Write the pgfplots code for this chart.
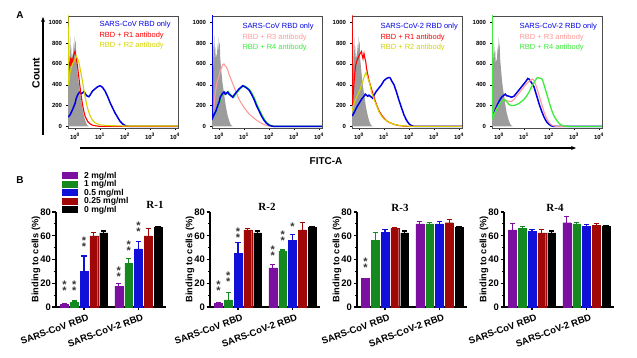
\documentclass[border=0pt]{standalone}
\usepackage{fontspec}
\setmainfont{Liberation Sans}
\newfontfamily\serifb{Liberation Serif}
\usepackage{pgfplots}
\pgfplotsset{compat=1.18}
\usetikzlibrary{arrows.meta}
\definecolor{cpur}{HTML}{7A0FA0}
\definecolor{cgrn}{HTML}{13891F}
\definecolor{cblu}{HTML}{1010D8}
\definecolor{cred}{HTML}{A00808}
\definecolor{hblue}{HTML}{0000E6}
\definecolor{hred}{HTML}{FF0000}
\definecolor{hyel}{HTML}{D4D400}
\definecolor{hpink}{HTML}{FF9A9A}
\definecolor{hgrn}{HTML}{3CEB3C}
\definecolor{hgray}{HTML}{9C9C9C}
\pgfplotsset{
 histo/.style={scale only axis, width=110bp, height=112bp,
   xmin=-0.28, xmax=4.12, ymin=-15, ymax=1060,
   axis line style={black!70, line width=0.5bp},
   xtick={0,1,2,3,4},
   xticklabels={10\textsuperscript{0},10\textsuperscript{1},10\textsuperscript{2},10\textsuperscript{3},10\textsuperscript{4}},
   ytick={0,200,400,600,800,1000}, yticklabels={0,200,400,600,800,1000},
   minor xtick={0.301,0.477,0.602,0.699,0.778,0.845,0.903,0.954,1.301,1.477,1.602,1.699,1.778,1.845,1.903,1.954,2.301,2.477,2.602,2.699,2.778,2.845,2.903,2.954,3.301,3.477,3.602,3.699,3.778,3.845,3.903,3.954},
   tick align=outside, xtick pos=bottom, ytick pos=left,
   major tick length=2bp, minor tick length=1.2bp,
   tick style={black, line width=0.4bp},
   ticklabel style={font=\fontsize{6}{6.5}\selectfont\bfseries},
   xticklabel style={yshift=0bp}, yticklabel style={xshift=-0.5bp},
   clip=true,
 },
 hl/.style={color=#1, line width=1.1bp, sharp plot, mark=none},
 barax/.style={scale only axis, width=110bp, height=95bp,
   xmin=-0.514, xmax=1.505, ymin=0, ymax=80,
   axis x line*=bottom, axis y line*=left,
   axis line style={line width=1.3bp},
   ybar=2bp, bar width=7.8bp,
   xtick={0,1}, xticklabels={SARS-CoV RBD,SARS-CoV-2 RBD},
   ytick={0,20,40,60,80}, minor ytick={10,30,50,70},
   tick align=outside, major tick length=3.5bp, minor tick length=2bp,
   tick style={black, line width=1.2bp},
   /pgf/number format/assume math mode=true,
   yticklabel style={font=\fontsize{9.5}{10}\selectfont\bfseries, xshift=0bp, inner sep=1.5bp},
   xticklabel style={font=\fontsize{9.5}{10}\selectfont\bfseries, rotate=20, anchor=north east, xshift=3bp, yshift=-3bp, inner sep=1bp},
   ylabel={Binding to cells (\%)},
   ylabel style={font=\fontsize{9.3}{10}\selectfont\bfseries, yshift=-5bp},
   clip=false,
 },
 eb/.style={fill=#1, draw=#1, line width=0.3bp,
   error bars/.cd, y dir=plus, y explicit,
   error bar style={draw=#1, line width=1.2bp},
   error mark options={draw=#1, rotate=90, mark size=2.6bp, line width=1.2bp}},
}
\tikzset{ss/.style={font=\fontsize{11}{11}\selectfont\bfseries, inner sep=0pt, text=black!80, align=center}}
\begin{document}
\begin{tikzpicture}
\path[use as bounding box] (0bp,0bp) rectangle (637bp,358bp);
\fill[white] (0bp,0bp) rectangle (637bp,358bp);
% ---------- A -----------
\node[font=\fontsize{10}{12}\selectfont\bfseries] at (20bp,343bp) {A};
\node[font=\fontsize{10.5}{12}\selectfont\bfseries, rotate=90] at (36bp,285bp) {Count};
\draw[line width=1.2bp, -{Stealth[length=5bp,width=4bp]}] (43bp,223bp) -- (43bp,341bp);
\draw[line width=1.2bp, -{Stealth[length=5bp,width=4bp]}] (80bp,210bp) -- (576bp,210bp);
\node[font=\fontsize{10}{12}\selectfont\bfseries] at (326bp,197bp) {FITC-A};

% Panel 1
\begin{axis}[histo, at={(68bp,230bp)}, anchor=south west]
\addplot[fill=hgray, draw=none] coordinates {(-0.28,0) (-0.27,400) (-0.25,620) (-0.23,550) (-0.21,800) (-0.19,860) (-0.17,700) (-0.15,760) (-0.13,620) (-0.11,700) (-0.09,640) (-0.07,720) (-0.05,800) (-0.03,700) (-0.01,860) (0.01,780) (0.03,820) (0.05,650) (0.07,600) (0.09,540) (0.11,500) (0.13,450) (0.15,410) (0.18,360) (0.21,310) (0.24,260) (0.27,210) (0.30,170) (0.34,120) (0.38,80) (0.42,50) (0.46,25) (0.5,10) (0.56,0)} \closedcycle;
\addplot[hl=hblue, line width=1.5bp] coordinates {(-0.27,90) (-0.2,110) (-0.12,150) (-0.05,190) (0,220) (0.05,270) (0.1,300) (0.15,320) (0.2,330) (0.25,315) (0.3,320) (0.35,335) (0.4,320) (0.45,300) (0.5,290) (0.55,285) (0.6,300) (0.65,320) (0.7,340) (0.8,360) (0.9,380) (1.0,390) (1.05,385) (1.1,375) (1.2,340) (1.3,290) (1.4,230) (1.5,180) (1.6,130) (1.7,90) (1.8,50) (1.9,25) (2.0,10) (2.1,3) (2.2,0) (4.12,0)};
\addplot[hl=hred] coordinates {(-0.27,520) (-0.24,560) (-0.22,620) (-0.2,580) (-0.18,660) (-0.15,600) (-0.12,640) (-0.09,620) (-0.06,680) (-0.03,700) (0,720) (0.03,680) (0.06,640) (0.1,580) (0.15,480) (0.2,380) (0.25,290) (0.3,210) (0.35,150) (0.4,100) (0.5,50) (0.6,25) (0.7,12) (0.85,5) (1.0,0) (4.12,0)};
\addplot[hl=hyel] coordinates {(-0.275,1100) (-0.26,400) (-0.23,450) (-0.2,520) (-0.15,560) (-0.1,600) (-0.05,620) (0,640) (0.04,680) (0.08,660) (0.12,640) (0.16,610) (0.2,560) (0.25,500) (0.3,430) (0.35,360) (0.4,290) (0.45,230) (0.5,175) (0.6,105) (0.7,60) (0.8,35) (1.0,15) (1.3,8) (2,4) (4.12,4)};
\end{axis}
\node[anchor=west, font=\fontsize{7.5}{8}\selectfont, text=hblue] at (96bp,333bp) {SARS-CoV RBD only};
\node[anchor=west, font=\fontsize{7.5}{8}\selectfont, text=hred] at (96bp,322bp) {RBD + R1 antibody};
\node[anchor=west, font=\fontsize{7.5}{8}\selectfont, text=hyel] at (96bp,312bp) {RBD + R2 antibody};

% Panel 2
\begin{axis}[histo, at={(212bp,230bp)}, anchor=south west]
\addplot[fill=hgray, draw=none] coordinates {(-0.28,0) (-0.27,380) (-0.25,600) (-0.23,560) (-0.21,780) (-0.19,870) (-0.17,720) (-0.15,760) (-0.13,640) (-0.11,690) (-0.09,650) (-0.07,730) (-0.05,790) (-0.03,690) (-0.01,850) (0.01,770) (0.03,800) (0.05,660) (0.07,600) (0.09,540) (0.11,490) (0.13,440) (0.15,400) (0.18,350) (0.21,300) (0.24,250) (0.27,200) (0.30,160) (0.34,110) (0.38,75) (0.42,45) (0.46,22) (0.5,8) (0.56,0)} \closedcycle;
\addplot[hl=hpink] coordinates {(-0.27,80) (-0.2,200) (-0.15,320) (-0.1,400) (-0.05,450) (0,480) (0.05,540) (0.1,560) (0.15,590) (0.2,600) (0.25,580) (0.3,570) (0.35,540) (0.4,500) (0.5,440) (0.6,380) (0.7,320) (0.8,260) (0.9,220) (1.0,180) (1.1,150) (1.2,120) (1.3,100) (1.4,80) (1.5,60) (1.6,45) (1.7,30) (1.8,18) (1.9,10) (2.0,4) (2.2,0) (4.12,0)};
\addplot[hl=hgrn, line width=1.6bp] coordinates {(-0.26,80) (-0.2,105) (-0.12,145) (-0.05,195) (0.02,230) (0.08,280) (0.13,300) (0.18,320) (0.23,330) (0.28,310) (0.33,320) (0.38,330) (0.43,310) (0.48,300) (0.53,290) (0.58,280) (0.63,300) (0.73,330) (0.83,360) (0.93,380) (0.98,390) (1.03,385) (1.13,370) (1.23,350) (1.33,310) (1.43,260) (1.53,200) (1.63,150) (1.73,100) (1.83,60) (1.93,30) (2.03,12) (2.13,4) (2.23,0) (4.12,0)};
\addplot[hl=hblue, line width=1.5bp] coordinates {(-0.275,1100) (-0.26,80) (-0.2,110) (-0.12,150) (-0.05,200) (0,230) (0.05,280) (0.1,300) (0.15,320) (0.2,330) (0.25,310) (0.3,320) (0.35,330) (0.4,310) (0.45,300) (0.5,290) (0.55,280) (0.6,300) (0.7,330) (0.8,360) (0.9,380) (0.95,390) (1.0,385) (1.1,370) (1.2,350) (1.3,310) (1.4,260) (1.5,200) (1.6,150) (1.7,100) (1.8,60) (1.9,30) (2.0,12) (2.1,4) (2.2,0) (4.12,0)};
\end{axis}
\node[anchor=west, font=\fontsize{7.5}{8}\selectfont, text=hblue] at (239bp,331bp) {SARS-CoV RBD only};
\node[anchor=west, font=\fontsize{7.5}{8}\selectfont, text=hpink] at (239bp,320bp) {RBD + R3 antibody};
\node[anchor=west, font=\fontsize{7.5}{8}\selectfont, text=hgrn] at (239bp,310bp) {RBD + R4 antibody};

% Panel 3
\begin{axis}[histo, at={(352bp,230bp)}, anchor=south west]
\addplot[fill=hgray, draw=none] coordinates {(-0.28,0) (-0.27,420) (-0.25,640) (-0.23,560) (-0.21,790) (-0.19,850) (-0.17,700) (-0.15,770) (-0.13,630) (-0.11,700) (-0.09,630) (-0.07,720) (-0.05,790) (-0.03,700) (-0.01,860) (0.01,770) (0.03,810) (0.05,640) (0.07,590) (0.09,540) (0.11,490) (0.13,440) (0.15,400) (0.18,350) (0.21,300) (0.24,250) (0.27,200) (0.30,160) (0.34,115) (0.38,75) (0.42,45) (0.46,22) (0.5,8) (0.56,0)} \closedcycle;
\addplot[hl=hblue, line width=1.5bp] coordinates {(-0.27,100) (-0.2,130) (-0.1,180) (0,220) (0.1,260) (0.2,290) (0.25,310) (0.3,300) (0.35,290) (0.4,300) (0.45,290) (0.5,280) (0.55,270) (0.6,300) (0.7,340) (0.8,370) (0.9,400) (1.0,440) (1.1,460) (1.2,470) (1.25,465) (1.3,440) (1.4,400) (1.5,330) (1.6,250) (1.7,180) (1.8,110) (1.9,60) (2.0,25) (2.1,8) (2.2,0) (4.12,0)};
\addplot[hl=hred] coordinates {(-0.275,1100) (-0.26,200) (-0.22,350) (-0.18,480) (-0.14,580) (-0.1,620) (-0.05,650) (0,680) (0.05,700) (0.1,720) (0.13,680) (0.16,650) (0.2,700) (0.23,660) (0.27,620) (0.3,560) (0.35,500) (0.4,440) (0.5,360) (0.6,280) (0.7,210) (0.8,150) (0.9,110) (1.0,80) (1.1,55) (1.2,40) (1.4,20) (1.6,8) (1.8,3) (2.0,0) (4.12,0)};
\addplot[hl=hyel] coordinates {(-0.27,150) (-0.2,220) (-0.1,280) (0,330) (0.05,360) (0.1,400) (0.15,430) (0.2,470) (0.25,500) (0.28,520) (0.32,490) (0.36,460) (0.4,430) (0.45,390) (0.5,330) (0.6,260) (0.7,200) (0.8,140) (0.9,100) (1.0,70) (1.2,40) (1.4,20) (1.6,10) (1.8,5) (2.0,2) (2.2,0) (4.12,0)};
\end{axis}
\node[anchor=west, font=\fontsize{7.5}{8}\selectfont, text=hblue] at (377bp,331bp) {SARS-CoV-2 RBD only};
\node[anchor=west, font=\fontsize{7.5}{8}\selectfont, text=hred] at (377bp,320bp) {RBD + R1 antibody};
\node[anchor=west, font=\fontsize{7.5}{8}\selectfont, text=hyel] at (377bp,310bp) {RBD + R2 antibody};

% Panel 4
\begin{axis}[histo, at={(492bp,230bp)}, anchor=south west]
\addplot[fill=hgray, draw=none] coordinates {(-0.28,0) (-0.27,450) (-0.25,700) (-0.23,620) (-0.21,800) (-0.19,760) (-0.17,680) (-0.15,720) (-0.13,600) (-0.11,640) (-0.09,620) (-0.07,700) (-0.05,760) (-0.03,720) (-0.01,850) (0.01,800) (0.03,760) (0.05,640) (0.07,580) (0.09,520) (0.11,470) (0.13,420) (0.15,380) (0.18,330) (0.21,280) (0.24,230) (0.27,180) (0.30,140) (0.34,100) (0.38,65) (0.42,40) (0.46,20) (0.5,7) (0.56,0)} \closedcycle;
\addplot[hl=hblue, line width=1.5bp] coordinates {(-0.27,90) (-0.2,130) (-0.1,190) (0,240) (0.1,280) (0.2,300) (0.25,310) (0.3,295) (0.4,290) (0.5,280) (0.6,290) (0.7,320) (0.8,350) (0.9,380) (1.0,410) (1.1,440) (1.15,460) (1.2,455) (1.3,420) (1.4,380) (1.5,300) (1.6,220) (1.7,150) (1.8,90) (1.9,45) (2.0,20) (2.1,5) (2.2,0) (4.12,0)};
\addplot[hl=hpink] coordinates {(-0.275,1100) (-0.26,80) (-0.2,120) (-0.1,170) (0,210) (0.1,240) (0.2,260) (0.3,250) (0.4,240) (0.5,240) (0.6,260) (0.7,290) (0.8,320) (0.9,350) (1.0,380) (1.1,410) (1.2,430) (1.3,450) (1.35,455) (1.4,440) (1.5,380) (1.6,300) (1.7,220) (1.8,140) (1.9,80) (2.0,40) (2.1,15) (2.2,5) (2.3,0) (4.12,0)};
\addplot[hl=hgrn, line width=1.3bp] coordinates {(-0.275,1100) (-0.26,80) (-0.2,110) (-0.1,160) (0,200) (0.1,240) (0.2,260) (0.3,240) (0.4,210) (0.5,200) (0.6,200) (0.7,210) (0.8,220) (0.9,240) (1.0,260) (1.1,290) (1.2,330) (1.3,380) (1.4,420) (1.5,460) (1.55,470) (1.6,465) (1.7,460) (1.75,440) (1.8,400) (1.9,320) (2.0,240) (2.1,160) (2.2,100) (2.3,60) (2.4,30) (2.5,12) (2.6,5) (2.8,0) (4.12,0)};
\end{axis}
\node[anchor=west, font=\fontsize{7.5}{8}\selectfont, text=hblue] at (516bp,331bp) {SARS-CoV-2 RBD only};
\node[anchor=west, font=\fontsize{7.5}{8}\selectfont, text=hpink] at (516bp,320bp) {RBD + R3 antibody};
\node[anchor=west, font=\fontsize{7.5}{8}\selectfont, text=hgrn] at (516bp,310bp) {RBD + R4 antibody};

% ---------- B -----------
\node[font=\fontsize{10}{12}\selectfont\bfseries] at (20bp,178bp) {B};
% legend
\fill[cpur] (62bp,178.5bp) rectangle (78bp,185.5bp);
\fill[cgrn] (62bp,170bp) rectangle (78bp,177bp);
\fill[cblu] (62bp,161.5bp) rectangle (78bp,168.5bp);
\fill[cred] (62bp,153bp) rectangle (78bp,160bp);
\fill[black] (62bp,144.5bp) rectangle (78bp,151.5bp);
\node[anchor=west, font=\fontsize{8.6}{8.6}\selectfont\bfseries, inner sep=0pt] at (84bp,182bp) {2 mg/ml};
\node[anchor=west, font=\fontsize{8.6}{8.6}\selectfont\bfseries, inner sep=0pt] at (84bp,173.5bp) {1 mg/ml};
\node[anchor=west, font=\fontsize{8.6}{8.6}\selectfont\bfseries, inner sep=0pt] at (84bp,165bp) {0.5 mg/ml};
\node[anchor=west, font=\fontsize{8.6}{8.6}\selectfont\bfseries, inner sep=0pt] at (84bp,156.5bp) {0.25 mg/ml};
\node[anchor=west, font=\fontsize{8.6}{8.6}\selectfont\bfseries, inner sep=0pt] at (84bp,148bp) {0 mg/ml};

% R-1
\begin{axis}[barax, at={(56bp,51bp)}, anchor=south west]
\addplot[eb=cpur] coordinates {(0,2.5) +- (0,0.5) (1,17.5) +- (0,2)};
\addplot[eb=cgrn] coordinates {(0,4) +- (0,1) (1,37) +- (0,4)};
\addplot[eb=cblu] coordinates {(0,30) +- (0,13) (1,49) +- (0,6)};
\addplot[eb=cred] coordinates {(0,60) +- (0,3) (1,60) +- (0,6)};
\addplot[eb=black] coordinates {(0,62.5) +- (0,1.5) (1,67) +- (0,1)};
\node[ss] at (axis cs:-0.36,16) {*\\[-5bp]*};
\node[ss] at (axis cs:-0.18,16) {*\\[-5bp]*};
\node[ss] at (axis cs:0,53) {*\\[-5bp]*};
\node[ss] at (axis cs:0.64,28) {*\\[-5bp]*};
\node[ss] at (axis cs:0.82,50) {*\\[-5bp]*};
\node[ss] at (axis cs:1,66) {*\\[-5bp]*};
\end{axis}
\node[font=\fontsize{11}{12}\selectfont\bfseries\serifb] at (155bp,153bp) {R-1};

% R-2
\begin{axis}[barax, at={(210bp,51bp)}, anchor=south west]
\addplot[eb=cpur] coordinates {(0,3) +- (0,1) (1,33) +- (0,3)};
\addplot[eb=cgrn] coordinates {(0,6) +- (0,6) (1,47) +- (0,1)};
\addplot[eb=cblu] coordinates {(0,45) +- (0,9) (1,56) +- (0,5)};
\addplot[eb=cred] coordinates {(0,65) +- (0,1) (1,65) +- (0,6)};
\addplot[eb=black] coordinates {(0,62.5) +- (0,1.5) (1,67) +- (0,1)};
\node[ss] at (axis cs:-0.36,16) {*\\[-5bp]*};
\node[ss] at (axis cs:-0.18,24) {*\\[-5bp]*};
\node[ss] at (axis cs:0,61) {*\\[-5bp]*};
\node[ss] at (axis cs:0.64,46) {*\\[-5bp]*};
\node[ss] at (axis cs:0.82,58) {*\\[-5bp]*};
\node[ss] at (axis cs:1,68) {*};
\end{axis}
\node[font=\fontsize{11}{12}\selectfont\bfseries\serifb] at (267bp,151bp) {R-2};

% R-3
\begin{axis}[barax, at={(357bp,51bp)}, anchor=south west]
\addplot[eb=cpur] coordinates {(0,24) +- (0,0.3) (1,70) +- (0,2)};
\addplot[eb=cgrn] coordinates {(0,56) +- (0,7) (1,70) +- (0,1)};
\addplot[eb=cblu] coordinates {(0,63) +- (0,2) (1,70) +- (0,2)};
\addplot[eb=cred] coordinates {(0,66) +- (0,1) (1,71) +- (0,3)};
\addplot[eb=black] coordinates {(0,62.5) +- (0,1.5) (1,67) +- (0,1)};
\node[ss] at (axis cs:-0.36,36) {*\\[-5bp]*};
\end{axis}
\node[font=\fontsize{11}{12}\selectfont\bfseries\serifb] at (400bp,150bp) {R-3};

% R-4
\begin{axis}[barax, at={(504bp,51bp)}, anchor=south west]
\addplot[eb=cpur] coordinates {(0,65) +- (0,5) (1,71) +- (0,5)};
\addplot[eb=cgrn] coordinates {(0,66) +- (0,2) (1,70) +- (0,1)};
\addplot[eb=cblu] coordinates {(0,64) +- (0,1) (1,68) +- (0,1.5)};
\addplot[eb=cred] coordinates {(0,62.5) +- (0,3) (1,69) +- (0,1)};
\addplot[eb=black] coordinates {(0,62.5) +- (0,1.5) (1,68) +- (0,0.3)};
\end{axis}
\node[font=\fontsize{11}{12}\selectfont\bfseries\serifb] at (555bp,150bp) {R-4};
\end{tikzpicture}
\end{document}
